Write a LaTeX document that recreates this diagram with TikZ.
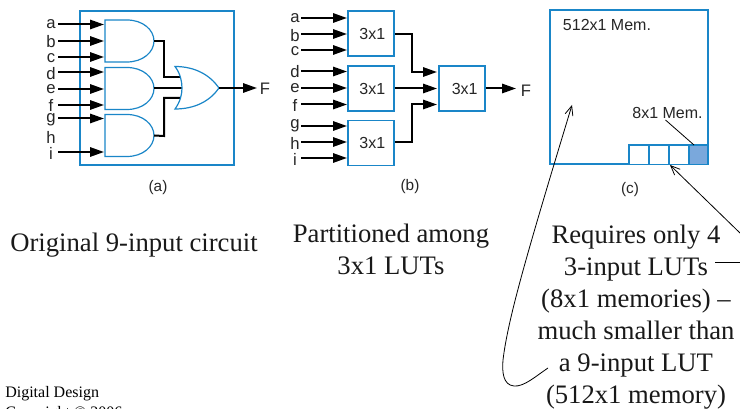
\documentclass[tikz,border=0pt]{standalone}
\usepackage{fontspec}
\setmainfont{Liberation Serif}
\setsansfont{Liberation Sans}
\usetikzlibrary{arrows.meta}
\definecolor{lineblue}{HTML}{1A86C8}
\definecolor{cellfill}{HTML}{7AA8DC}
\tikzset{
  x=0.75pt,y=-0.75pt,
  sanslabel/.style={font=\sffamily\fontsize{12.5}{14}\selectfont,inner sep=0pt,text=black!85},
  memlabel/.style={font=\sffamily\fontsize{12}{14}\selectfont,inner sep=0pt,text=black!85},
  caption/.style={font=\sffamily\fontsize{11.5}{13}\selectfont,inner sep=0pt,text=black!85},
  serifnote/.style={font=\rmfamily\fontsize{20}{24}\selectfont,align=center,inner sep=0pt,text=black!90},
  smallnote/.style={font=\rmfamily\fontsize{12}{14}\selectfont,inner sep=0pt,anchor=west},
  bluebox/.style={draw=lineblue,line width=1.2pt,inner sep=0pt,fill=white},
  lutbox/.style={bluebox,minimum width=34.5pt,minimum height=33.75pt,font=\sffamily\fontsize{12}{14}\selectfont,text=black!85},
  gate/.style={draw=lineblue,line width=0.9pt,fill=white,line join=miter},
  wire/.style={draw=black,line width=1.5pt},
  sig/.style={wire,-{Triangle[length=10.5pt,width=7pt]}},
  thinarrow/.style={draw=black,line width=0.6pt,-{Straight Barb[length=7pt,width=6pt]}},
  thinline/.style={draw=black,line width=0.6pt},
}
\begin{document}
\begin{tikzpicture}
\useasboundingbox (0,0) rectangle (740,409);
\clip (0,0) rectangle (740,409);
% --- (a)
\node[bluebox,minimum width=115.5pt,minimum height=115.5pt] (boxa) at (157,88) {};
\foreach \n/\t/\ly/\wy in {aa/a/24.5/24.5,ab/b/42/41,ac/c/58/57,ad/d/74/72,ae/e/89/89,af/f/105/105,ag/g/120/118.5,ai/i/153/152}{
  \node[sanslabel] (\n) at (51,\ly) {\t};
  \coordinate (\n s) at (58,\wy);
  \coordinate (\n t) at (104,\wy);
  \draw[sig] (\n s) -- (\n t);
}
\node[sanslabel] (ah) at (51,137) {h};
\foreach \n/\tp/\mid/\bt in {g1/20/41/62,g2/67.5/88.5/109.5,g3/114.5/135.5/156.5}{
  \draw[gate] (105,\tp) -- (127,\tp) .. controls (143,\tp) and (154,\mid-11) .. (154,\mid)
     .. controls (154,\mid+11) and (143,\bt) .. (127,\bt) -- (105,\bt) -- cycle;
  \coordinate (\n out) at (154,\mid);
}
\coordinate (or1) at (181,77.5);
\coordinate (or2) at (182,88.5);
\coordinate (or3) at (181,98);
\coordinate (orout) at (219,88);
\coordinate (fatip) at (257,88);
\coordinate (ja1) at (164,41);
\coordinate (ja3) at (164,136);
\draw[wire] (g1out) -- (ja1) |- (or1);
\draw[wire] (g2out) -- (or2);
\draw[wire] (g3out) -- (ja3) |- (or3);
\draw[gate] (175,66.5) .. controls (195,66.5) and (210,75) .. (orout)
   .. controls (210,101) and (195,109) .. (175,109)
   .. controls (180,102) and (182,95) .. (182,88)
   .. controls (182,81) and (180,73) .. (175,66.5) -- cycle;
\node[sanslabel] (fa) at (265,89) {F};
\draw[sig] (orout) -- (fatip);
\node[caption] (capa) at (158,188) {(a)};
% --- (b)
\node[lutbox] (l1) at (371,33.5) {\hspace*{2pt}3x1};
\node[lutbox] (l2) at (371,88.5) {\hspace*{2pt}3x1};
\node[lutbox] (l3) at (371,143) {\hspace*{2pt}3x1};
\node[lutbox] (l4) at (462,88.5) {\hspace*{4pt}3x1};
\foreach \n/\t/\ly/\wy in {ba/a/18/18,bb/b/36/34,bc/c/51/50,bd/d/72/71.5,be/e/88/88,bf/f/105/104.5,bg/g/126/126,bh/h/143/142,bi/i/159/158}{
  \node[sanslabel] (\n) at (295,\ly) {\t};
  \coordinate (\n s) at (301,\wy);
  \coordinate (\n t) at (347,\wy);
  \draw[sig] (\n s) -- (\n t);
}
\coordinate (t1) at (437,72);
\coordinate (t2) at (437,88.5);
\coordinate (t3) at (437,104.5);
\coordinate (jb1) at (412,34);
\coordinate (jb3) at (412,142);
\coordinate (fbtip) at (516,88.5);
\draw[sig] (l1.east |- jb1) -- (jb1) |- (t1);
\draw[sig] (l2.east) -- (t2);
\draw[sig] (l3.east |- jb3) -- (jb3) |- (t3);
\node[sanslabel] (fb) at (526,91) {F};
\draw[sig] (l4.east) -- (fbtip);
\node[caption] (capb) at (410,187) {(b)};
% --- (c)
\node[bluebox,minimum width=118.5pt,minimum height=115.5pt] (mem) at (629,87.25) {};
\node[memlabel] (memtxt) at (607,25) {512x1 Mem.};
\node[memlabel] (celltxt) at (667.5,113) {8x1 Mem.};
\foreach \n/\cx in {c1/639,c2/659,c3/679}{
  \node[bluebox,minimum width=15pt,minimum height=14.6pt] (\n) at (\cx,154.75) {};
}
\node[bluebox,fill=cellfill,minimum width=14.4pt,minimum height=14.6pt] (c4) at (698.5,154.75) {};
\coordinate (cs) at (665.5,120);
\coordinate (ct) at (694,145);
\draw[thinline] (cs) -- (ct);
\node[caption] (capc) at (630,190) {(c)};
% --- notes
\node[serifnote] (n1) at (134,245) {Original 9-input circuit};
\node[serifnote] (n2) at (391,249) {Partitioned among\\3x1 LUTs};
\node[serifnote] (n3) at (636,317) {Requires only 4\\3-input LUTs\\(8x1 memories) --\\much smaller than\\a 9-input LUT\\(512x1 memory)};
\node[smallnote] (dd) at (5,393.5) {Digital Design};
\node[smallnote] (cp) at (5,414) {Copyright © 2006};
% --- callout curves
\coordinate (la) at (548,368);
\coordinate (lt) at (572,105);
\draw[thinarrow] (la) .. controls (536,376) and (524,387) .. (514,386)
   .. controls (503,385) and (502,372) .. (503,360)
   .. controls (508,318) and (528,250) .. (lt);
\coordinate (ra) at (715,262);
\coordinate (re) at (740,262);
\coordinate (rb) at (740,233);
\coordinate (rt) at (670,165);
\draw[thinline] (ra) -- (re);
\draw[thinarrow] (rb) -- (rt);
\end{tikzpicture}
\end{document}
